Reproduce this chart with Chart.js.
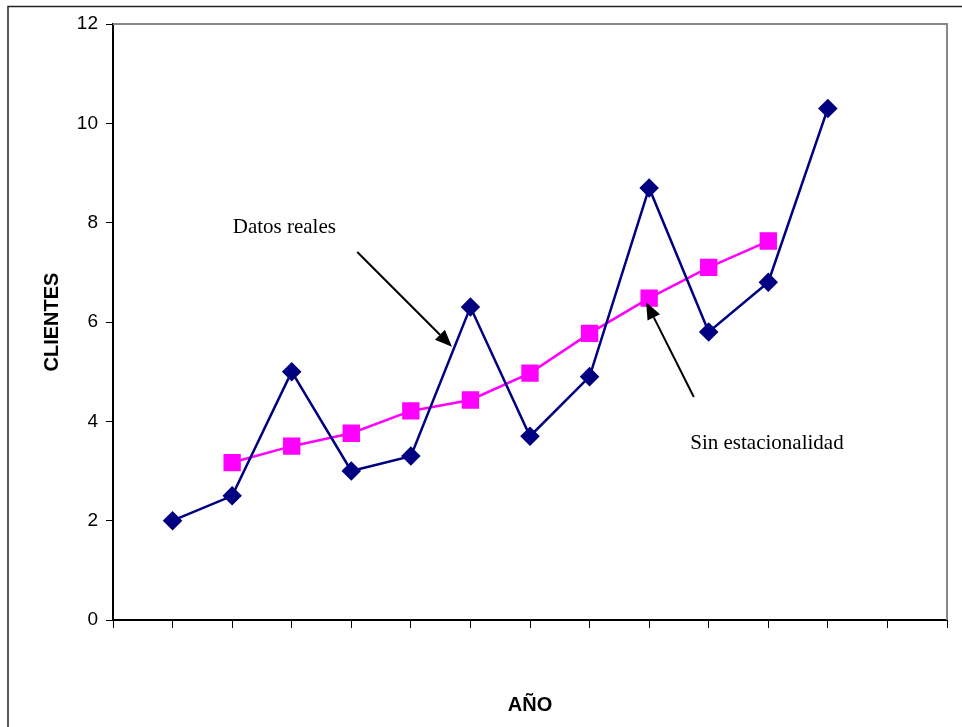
<!DOCTYPE html>
<html>
<head>
<meta charset="utf-8">
<script src="https://cdn.jsdelivr.net/npm/chart.js@4"></script>
<style>
  body { margin: 0; background: #fff; }
  canvas { display: block; }
</style>
</head>
<body>
<canvas id="myChart" width="962" height="727"></canvas>
<script>
// periodos (eje x) y valores
const periods = [1, 2, 3, 4, 5, 6, 7, 8, 9, 10, 11, 12];
const datosReales = [2, 2.5, 5, 3, 3.3, 6.3, 3.7, 4.9, 8.7, 5.8, 6.8, 10.3];
const sinEstacionalidad = [null, 3.17, 3.5, 3.76, 4.21, 4.43, 4.97, 5.77, 6.48, 7.1, 7.63, null];
const yTicks = [0, 2, 4, 6, 8, 10, 12];

// notas con flecha, en unidades de los ejes
const notes = [
  { text: 'Datos reales', at: [2.01, 7.91], from: [4.1, 7.41], to: [5.69, 5.5] },
  { text: 'Sin estacionalidad', at: [9.69, 3.56], from: [9.75, 4.49], to: [8.95, 6.4] }
];

const toXY = vals => periods.map((p, i) => ({ x: p, y: vals[i] }));

const frame = {
  id: 'frame',
  beforeDraw(chart) {
    const ctx = chart.ctx;
    ctx.save();
    ctx.fillStyle = '#fff';
    ctx.fillRect(0, 0, chart.width, chart.height);
    ctx.restore();
  },
  beforeDatasetsDraw(chart) {
    const { ctx, chartArea: a } = chart;
    ctx.save();
    // borde exterior
    ctx.strokeStyle = '#222';
    ctx.lineWidth = 1.5;
    ctx.beginPath();
    ctx.moveTo(8, chart.height + 5);
    ctx.lineTo(8, 6.5);
    ctx.lineTo(chart.width + 5, 6.5);
    ctx.stroke();
    // borde gris del area de trazado
    ctx.strokeStyle = '#888';
    ctx.lineWidth = 2;
    ctx.beginPath();
    ctx.moveTo(a.left, a.top);
    ctx.lineTo(a.right, a.top);
    ctx.lineTo(a.right, a.bottom);
    ctx.stroke();
    ctx.restore();
  },
  afterDraw(chart) {
    const { ctx, scales: { x, y } } = chart;
    ctx.save();
    ctx.font = '21px "Liberation Serif", "Times New Roman", serif';
    ctx.fillStyle = '#000';
    ctx.strokeStyle = '#000';
    ctx.textBaseline = 'middle';
    ctx.textAlign = 'left';
    notes.forEach(n => {
      ctx.fillText(n.text, x.getPixelForValue(n.at[0]), y.getPixelForValue(n.at[1]));
      const x0 = x.getPixelForValue(n.from[0]), y0 = y.getPixelForValue(n.from[1]);
      const x1 = x.getPixelForValue(n.to[0]), y1 = y.getPixelForValue(n.to[1]);
      const ang = Math.atan2(y1 - y0, x1 - x0);
      const len = 17, half = 7;
      const bx = x1 - Math.cos(ang) * len, by = y1 - Math.sin(ang) * len;
      ctx.lineWidth = 2;
      ctx.beginPath();
      ctx.moveTo(x0, y0);
      ctx.lineTo(bx, by);
      ctx.stroke();
      ctx.beginPath();
      ctx.moveTo(x1, y1);
      ctx.lineTo(bx + Math.sin(ang) * half, by - Math.cos(ang) * half);
      ctx.lineTo(bx - Math.sin(ang) * half, by + Math.cos(ang) * half);
      ctx.closePath();
      ctx.fill();
    });
    ctx.restore();
  }
};

const myChart = new Chart(document.getElementById('myChart').getContext('2d'), {
  type: 'line',
  data: {
    datasets: [
      {
        label: 'Datos reales',
        data: toXY(datosReales),
        borderColor: '#000080',
        backgroundColor: '#000080',
        borderWidth: 2.5,
        pointStyle: 'rectRot',
        pointRadius: 8,
        pointHoverRadius: 8,
        tension: 0
      },
      {
        label: 'Sin estacionalidad',
        data: toXY(sinEstacionalidad),
        borderColor: '#ff00ff',
        backgroundColor: '#ff00ff',
        borderWidth: 2.5,
        pointStyle: 'rect',
        pointRadius: 10.5,
        pointHoverRadius: 10.5,
        tension: 0
      }
    ]
  },
  options: {
    responsive: false,
    animation: false,
    layout: { padding: { top: 24, right: 15, left: 0, bottom: 0 } },
    plugins: { legend: { display: false }, tooltip: { enabled: false } },
    scales: {
      x: {
        type: 'linear',
        min: 0,
        max: 14,
        afterFit: s => { s.height = 107; },
        ticks: { stepSize: 1, callback: () => '' },
        grid: { drawOnChartArea: false, tickLength: 8, color: '#000', lineWidth: 1 },
        border: { color: '#000', width: 2 },
        title: {
          display: true,
          text: 'AÑO',
          color: '#000',
          font: { family: '"Liberation Sans", Arial, sans-serif', size: 20, weight: 'bold' },
          padding: { top: 0, bottom: 10 }
        }
      },
      y: {
        min: 0,
        max: 12,
        afterFit: s => { s.width = 113; },
        afterBuildTicks: s => { s.ticks = yTicks.map(v => ({ value: v })); },
        ticks: {
          color: '#000',
          padding: 8,
          font: { family: '"Liberation Sans", Arial, sans-serif', size: 19 }
        },
        grid: { drawOnChartArea: false, tickLength: 7, color: '#000', lineWidth: 1 },
        border: { color: '#000', width: 2 },
        title: {
          display: true,
          text: 'CLIENTES',
          color: '#000',
          font: { family: '"Liberation Sans", Arial, sans-serif', size: 20, weight: 'bold' },
          padding: { top: 40, bottom: 0 }
        }
      }
    }
  },
  plugins: [frame]
});
</script>
</body>
</html>
